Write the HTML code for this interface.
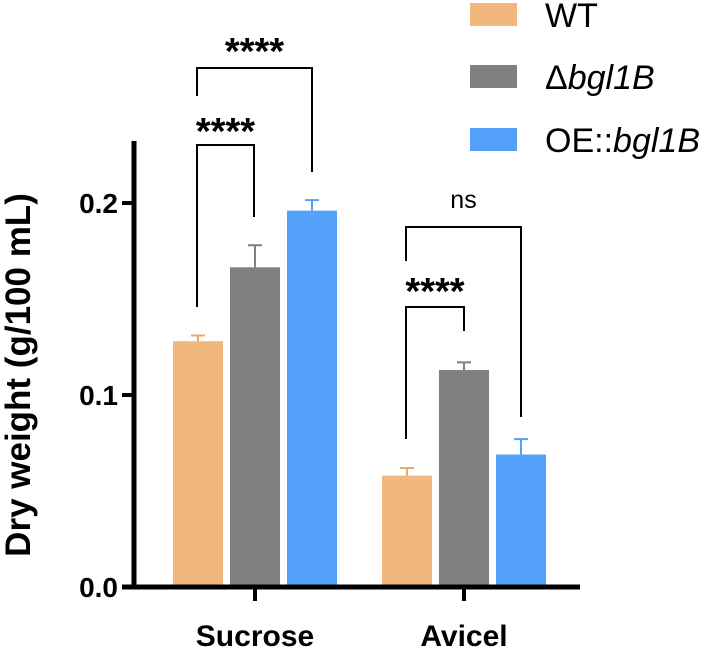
<!DOCTYPE html>
<html><head><meta charset="utf-8"><style>
body{margin:0;background:#fff}
svg{display:block;font-family:"Liberation Sans",Arial,sans-serif}
</style></head><body>
<svg id="chart" width="708" height="647" viewBox="0 0 708 647" xmlns="http://www.w3.org/2000/svg">
<g id="bars"></g>
<g id="axes"></g>
<g id="sig"></g>
<g id="legend"></g>
</svg>
<script>
const categories = ["Sucrose", "Avicel"];
const seriesNames = ["WT", "Δbgl1B", "OE::bgl1B"];
const wtValues = [0.128, 0.058];
const wtErrors = [0.003, 0.004];
const delValues = [0.1665, 0.113];
const delErrors = [0.0115, 0.004];
const oeValues = [0.196, 0.069];
const oeErrors = [0.0055, 0.008];
const yTicks = [0.0, 0.1, 0.2];
const yTickLabels = ["0.0", "0.1", "0.2"];

const NS = "http://www.w3.org/2000/svg";
const colors = ["#f2b77c", "#808080", "#55a0fa"];
const errColors = ["#e9a96a", "#808080", "#55a0fa"];
const y0 = 587, pxPerUnit = 1920;
function yScale(v){ return y0 - v * pxPerUnit; }
const groupStart = [173, 382];
const barW = 50, barStep = 57;
function xBar(ci, si){ return groupStart[ci] + si * barStep; }
function mk(tag, attrs, parent){
  const e = document.createElementNS(NS, tag);
  for (const k in attrs) e.setAttribute(k, attrs[k]);
  parent.appendChild(e); return e;
}
const bars = document.getElementById("bars");
const allVals = [wtValues, delValues, oeValues];
const allErrs = [wtErrors, delErrors, oeErrors];
categories.forEach((c, ci) => {
  allVals.forEach((vals, si) => {
    const x = xBar(ci, si), top = yScale(vals[ci]);
    const r = mk("rect", {x: x, y: top, width: barW, height: y0 - top, fill: colors[si]}, bars);
    
    
    const et = yScale(vals[ci] + allErrs[si][ci]), cx = x + barW / 2;
    const e1 = mk("path", {d: `M${cx} ${top}V${et}M${cx-7} ${et}H${cx+7}`, stroke: errColors[si], "stroke-width": 2, fill: "none"}, bars);
    
    
  });
});
const axes = document.getElementById("axes");
const ya = mk("path", {d: "M134 141V589", stroke: "#000", "stroke-width": 5, fill: "none"}, axes);


const xa = mk("path", {d: "M122 587H580", stroke: "#000", "stroke-width": 5, fill: "none"}, axes);


yTicks.forEach((t, i) => {
  const y = yScale(t);
  const tk = mk("path", {d: `M122 ${y}H134`, stroke: "#000", "stroke-width": 4}, axes);
  
  
  const tl = mk("text", {x: 118, y: y + 10, "text-anchor": "end", "font-size": 28, "font-weight": "bold"}, axes);
  tl.textContent = yTickLabels[i];
  
  
});
categories.forEach((c, ci) => {
  const cx = groupStart[ci] + barStep + barW / 2;
  const tk = mk("path", {d: `M${cx} 587V601`, stroke: "#000", "stroke-width": 4}, axes);
  
  
  const tl = mk("text", {x: cx, y: 646, "text-anchor": "middle", "font-size": 30, "font-weight": "bold"}, axes);
  tl.textContent = c;
  
  
});
const yt = mk("text", {transform: "translate(30,375) rotate(-90)", "text-anchor": "middle", "font-size": 35, "font-weight": "bold"}, axes);
yt.textContent = "Dry weight (g/100 mL)";



const sig = document.getElementById("sig");
const brackets = [
  {x1:197, x2:254, top:145, l:307, r:217, label:"****", ly:144, fs:38},
  {x1:197, x2:312, top:68, l:96, r:172, label:"****", ly:64, fs:38},
  {x1:406, x2:464, top:307, l:439, r:331, label:"****", ly:304, fs:38},
  {x1:406, x2:521, top:227, l:261, r:417, label:"ns", ly:208, fs:25}
];
brackets.forEach(b => {
  const p = mk("path", {d: `M${b.x1} ${b.l}V${b.top}H${b.x2}V${b.r}`, stroke: "#000", "stroke-width": 2, fill: "none"}, sig);
  
  
  const t = mk("text", {x: (b.x1 + b.x2) / 2, y: b.ly, "text-anchor": "middle", "font-size": b.fs, "font-weight": b.label === "ns" ? "normal" : "bold"}, sig);
  t.textContent = b.label;
  
  
});

const legend = document.getElementById("legend");
const ly = [15, 77, 140];
seriesNames.forEach((n, i) => {
  const r = mk("rect", {x: 470, y: ly[i] - 12, width: 47, height: 23, fill: colors[i]}, legend);
  
  
  const t = mk("text", {x: 545, y: ly[i] + 12, "font-size": 34}, legend);
  
  
  if (i === 0) t.textContent = "WT";
  else {
    const pre = i === 1 ? "Δ" : "OE::";
    const a = mk("tspan", {}, t); a.textContent = pre;
    const b = mk("tspan", {"font-style": "italic"}, t); b.textContent = "bgl1B";
  }
});
</script>
</body></html>
